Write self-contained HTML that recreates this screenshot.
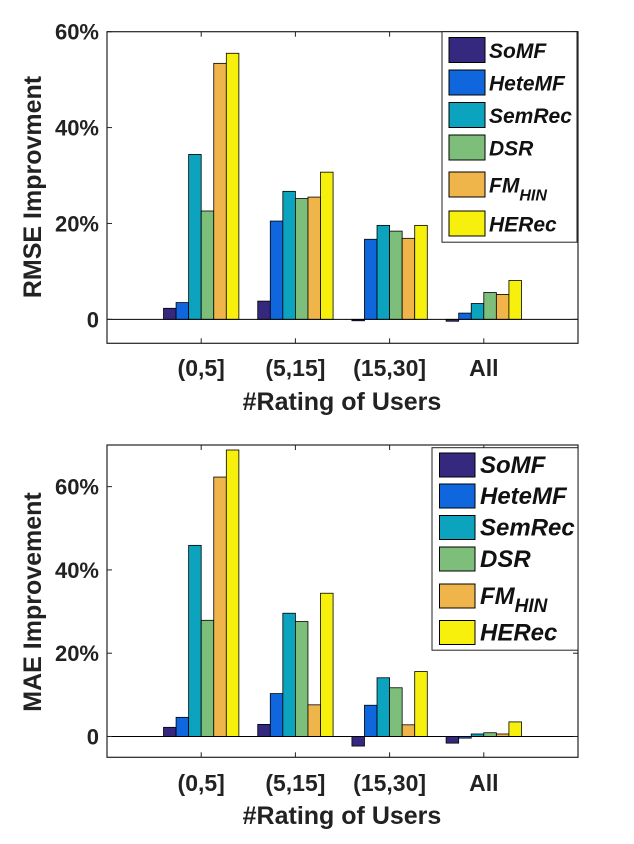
<!DOCTYPE html>
<html><head><meta charset="utf-8"><style>
html,body{margin:0;padding:0;background:#fff;}
svg{display:block;font-family:"Liberation Sans",sans-serif;}
</style></head><body>
<svg id="fig" width="634" height="844" viewBox="0 0 634 844"></svg>
<script>
const categories = ["(0,5]", "(5,15]", "(15,30]", "All"];
const seriesNames = ["SoMF", "HeteMF", "SemRec", "DSR", "FM", "HERec"];
const rmseSoMF   = [2.3, 3.8, -0.3, -0.4];
const rmseHeteMF = [3.5, 20.5, 16.7, 1.3];
const rmseSemRec = [34.4, 26.7, 19.6, 3.3];
const rmseDSR    = [22.6, 25.2, 18.4, 5.6];
const rmseFM     = [53.4, 25.5, 16.9, 5.2];
const rmseHERec  = [55.5, 30.7, 19.6, 8.1];
const maeSoMF   = [2.2, 2.9, -2.3, -1.6];
const maeHeteMF = [4.6, 10.3, 7.5, -0.4];
const maeSemRec = [45.9, 29.6, 14.1, 0.6];
const maeDSR    = [27.9, 27.6, 11.7, 0.9];
const maeFM     = [62.3, 7.6, 2.8, 0.6];
const maeHERec  = [68.8, 34.4, 15.6, 3.5];
const rmseTicks = [0, 20, 40, 60];
const maeTicks = [0, 20, 40, 60];
const colors = ["#35297f", "#1067dd", "#0ba3bd", "#7dbf7a", "#f0b54a", "#f7f00c"];
const NS = "http://www.w3.org/2000/svg";
const svg = document.getElementById("fig");
function mk(tag, attrs, parent) {
  const e = document.createElementNS(NS, tag);
  for (const k in attrs) e.setAttribute(k, attrs[k]);
  (parent || svg).appendChild(e);
  return e;
}
function drawChart(cfg) {
  const g = mk("g", {});
  
  
  const L = 107, R = 578, T = cfg.top, B = cfg.bottom;
  const ymin = -5, ymax = cfg.ymax;
  const x = v => L + (v - 0) / 5 * (R - L);
  const y = v => B - (v - ymin) / (ymax - ymin) * (B - T);
  const bw = 0.8 / 6;
  cfg.series.forEach((vals, s) => {
    vals.forEach((v, i) => {
      const cx = x(i + 1 - 0.4 + bw * s);
      const r = mk("rect", {x: cx, y: Math.min(y(v), y(0)), width: x(bw) - x(0), height: Math.abs(y(v) - y(0)), fill: colors[s], stroke: "#000", "stroke-width": 0.8}, g);
      
      
    });
  });
  const zl = mk("line", {x1: L, x2: R, y1: y(0), y2: y(0), stroke: "#000", "stroke-width": 1}, g);
  
  
  const box = mk("rect", {x: L, y: T, width: R - L, height: B - T, fill: "none", stroke: "#222", "stroke-width": 1.2}, g);
  
  
  cfg.ticks.forEach(t => {
    mk("line", {x1: L, x2: L + 5, y1: y(t), y2: y(t), stroke: "#222"}, g);
    mk("line", {x1: R, x2: R - 5, y1: y(t), y2: y(t), stroke: "#222"}, g);
    const tx = mk("text", {x: L - 8, y: y(t) + 8, "text-anchor": "end", "font-size": 22, "font-weight": "bold", fill: "#222"}, g);
    tx.textContent = t === 0 ? "0" : t + "%";
    
    
  });
  categories.forEach((c, i) => {
    mk("line", {x1: x(i + 1), x2: x(i + 1), y1: B, y2: B - 5, stroke: "#222"}, g);
    mk("line", {x1: x(i + 1), x2: x(i + 1), y1: T, y2: T + 5, stroke: "#222"}, g);
    const tx = mk("text", {x: x(i + 1), y: cfg.xtickY, "text-anchor": "middle", "font-size": 23, "font-weight": "bold", fill: "#222"}, g);
    tx.textContent = c;
    
    
  });
  const xl = mk("text", {x: 342, y: cfg.xlabelY, "text-anchor": "middle", "font-size": 25, "font-weight": "bold", fill: "#222"}, g);
  xl.textContent = "#Rating of Users";
  
  
  const yl = mk("text", {x: 0, y: 0, transform: "translate(41," + cfg.ylabelY + ") rotate(-90)", "text-anchor": "middle", "font-size": 25, "font-weight": "bold", fill: "#222"}, g);
  yl.textContent = cfg.ylabel;
  
  
  const lg = mk("g", {}, g);
  
  
  const lgc = cfg.legend;
  mk("rect", {x: lgc.x, y: lgc.y, width: lgc.w, height: lgc.h, fill: "#fff", stroke: "#222", "stroke-width": 1}, lg);
  seriesNames.forEach((n, s) => {
    const sy = lgc.sy[s];
    mk("rect", {x: lgc.sx, y: sy, width: lgc.sw, height: lgc.sh, fill: colors[s], stroke: "#000"}, lg);
    const t = mk("text", {x: lgc.tx, y: sy + lgc.sh / 2 + 8, "font-size": lgc.fs, "font-weight": "bold", "font-style": "italic", fill: "#111"}, lg);
    
    
    if (n === "FM") {
      t.textContent = "FM";
      const sub = mk("tspan", {dy: 8, "font-size": lgc.fs - 5}, t);
      sub.textContent = "HIN";
    } else t.textContent = n;
  });
}
drawChart({name: "rmse-chart", top: 31.7, bottom: 343.3, ymax: 60, ticks: rmseTicks, ylabel: "RMSE Improvment",
  series: [rmseSoMF, rmseHeteMF, rmseSemRec, rmseDSR, rmseFM, rmseHERec],
  xtickY: 376, xlabelY: 410, ylabelY: 187,
  legend: {x: 442, y: 31.7, w: 135, h: 210.5, sx: 449, sw: 36, sh: 25, tx: 489, fs: 21,
    sy: [37.5, 70, 102.5, 135, 172, 211]}});
drawChart({name: "mae-chart", top: 445, bottom: 757.3, ymax: 70, ticks: maeTicks, ylabel: "MAE Improvement",
  series: [maeSoMF, maeHeteMF, maeSemRec, maeDSR, maeFM, maeHERec],
  xtickY: 791, xlabelY: 824, ylabelY: 602,
  legend: {x: 432, y: 447.7, w: 146, h: 202.5, sx: 439.5, sw: 35.5, sh: 24, tx: 480, fs: 24,
    sy: [453, 484, 515.5, 547, 584, 620.5]}});
</script>
</body></html>
